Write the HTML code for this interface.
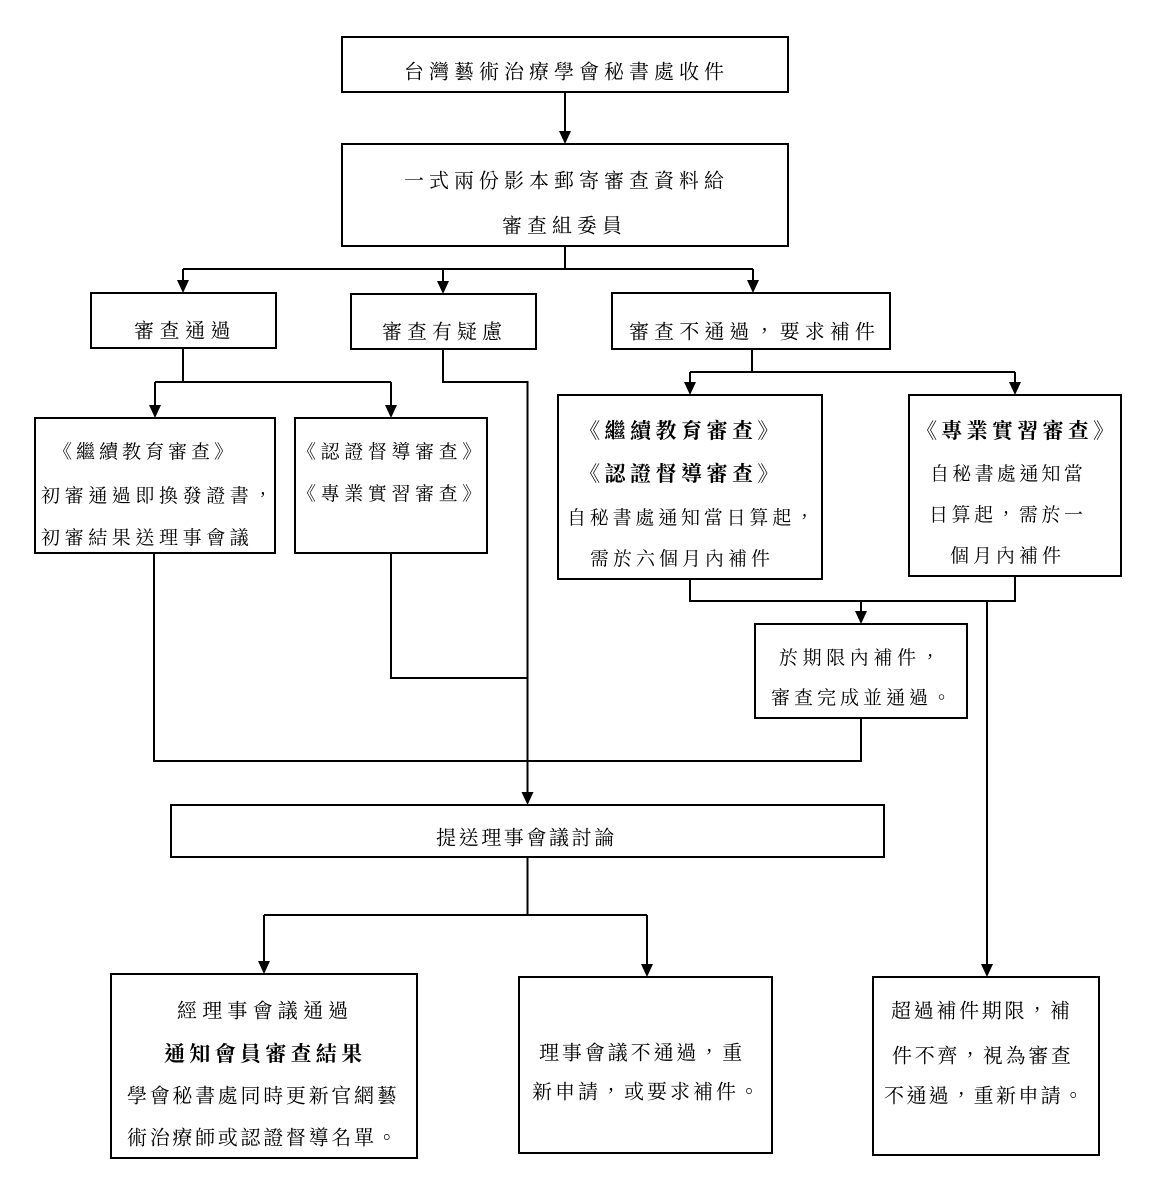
<!DOCTYPE html>
<html lang="zh-TW">
<head>
<meta charset="utf-8">
<style>
  html,body{margin:0;padding:0;background:#fff;}
  body{width:1152px;height:1187px;overflow:hidden;}
  svg{display:block;}
  text{font-family:"Noto Serif CJK SC","Noto Serif CJK TC","Noto Sans CJK TC",serif;fill:#000;}
  .b{font-weight:700;}
</style>
</head>
<body>
<svg width="1152" height="1187" viewBox="0 0 1152 1187" xmlns="http://www.w3.org/2000/svg">
  <rect x="0" y="0" width="1152" height="1187" fill="#fff"/>

  <!-- boxes -->
  <g fill="none" stroke="#000" stroke-width="2">
    <rect x="342" y="37" width="446" height="55"/>
    <rect x="342" y="144" width="446" height="102"/>
    <rect x="91" y="293" width="185" height="55"/>
    <rect x="351" y="294" width="185" height="55"/>
    <rect x="612" y="293" width="278" height="56"/>
    <rect x="35" y="418" width="240" height="135"/>
    <rect x="295" y="418" width="192" height="135"/>
    <rect x="558" y="395" width="264" height="184"/>
    <rect x="909" y="395" width="212" height="181"/>
    <rect x="755" y="624" width="212" height="94"/>
    <rect x="171" y="805" width="713" height="52"/>
    <rect x="111" y="974" width="306" height="184"/>
    <rect x="519" y="977" width="253" height="176"/>
    <rect x="873" y="977" width="226" height="178"/>
  </g>

  <!-- connectors -->
  <g fill="none" stroke="#000" stroke-width="2">
    <path d="M565 92 V132"/>
    <path d="M565 246 V269"/>
    <path d="M183 269 H753"/>
    <path d="M183 269 V281"/>
    <path d="M443 269 V282"/>
    <path d="M753 269 V281"/>
    <path d="M183 348 V382"/>
    <path d="M155 382 H391"/>
    <path d="M155 382 V406"/>
    <path d="M391 382 V406"/>
    <path d="M443 349 V382 H527.5 V793"/>
    <path d="M752 349 V372"/>
    <path d="M690 372 H1015"/>
    <path d="M690 372 V383"/>
    <path d="M1015 372 V383"/>
    <path d="M690 579 V601 H1015 V576"/>
    <path d="M861 601 V612"/>
    <path d="M987 601 V965"/>
    <path d="M861 718 V761 H154 V553"/>
    <path d="M391 553 V678 H527.5"/>
    <path d="M527.5 857 V915"/>
    <path d="M264 915 H647"/>
    <path d="M264 915 V962"/>
    <path d="M647 915 V965"/>
  </g>

  <!-- arrowheads -->
  <g fill="#000" stroke="none">
    <polygon points="559,131 571,131 565,144"/>
    <polygon points="177,280 189,280 183,293"/>
    <polygon points="437,281 449,281 443,294"/>
    <polygon points="747,280 759,280 753,293"/>
    <polygon points="149,405 161,405 155,418"/>
    <polygon points="385,405 397,405 391,418"/>
    <polygon points="684,382 696,382 690,395"/>
    <polygon points="1009,382 1021,382 1015,395"/>
    <polygon points="855,611 867,611 861,624"/>
    <polygon points="981,964 993,964 987,977"/>
    <polygon points="521.5,792 533.5,792 527.5,805"/>
    <polygon points="258,961 270,961 264,974"/>
    <polygon points="641,964 653,964 647,977"/>
  </g>

  <!-- texts -->
  <text x="404" y="78.6" style="font-size:20px;letter-spacing:5px">台灣藝術治療學會秘書處收件</text>

  <text x="404" y="187.6" style="font-size:20px;letter-spacing:5px">一式兩份影本郵寄審查資料給</text>
  <text x="502" y="232.6" style="font-size:20px;letter-spacing:5px">審查組委員</text>

  <text x="134" y="337.6" style="font-size:20px;letter-spacing:5.5px">審查通過</text>
  <text x="382" y="338.6" style="font-size:20px;letter-spacing:5px">審查有疑慮</text>
  <text x="629" y="338.6" style="font-size:20px;letter-spacing:5.1px">審查不通過，要求補件</text>

  <text x="53" y="458.2" style="font-size:19px;letter-spacing:4px">《繼續教育審查》</text>
  <text x="41" y="502.2" style="font-size:19px;letter-spacing:4.6px">初審通過即換發證書，</text>
  <text x="41" y="544.2" style="font-size:19px;letter-spacing:4.6px">初審結果送理事會議</text>

  <text x="297" y="458.2" style="font-size:19px;letter-spacing:4.6px">《認證督導審查》</text>
  <text x="297" y="500.2" style="font-size:19px;letter-spacing:4.6px">《專業實習審查》</text>

  <text class="b" x="579" y="438" style="font-size:21px;letter-spacing:4.5px">《繼續教育審查》</text>
  <text class="b" x="579" y="481" style="font-size:21px;letter-spacing:4.5px">《認證督導審查》</text>
  <text x="567" y="524.2" style="font-size:19px;letter-spacing:3.8px">自秘書處通知當日算起，</text>
  <text x="590" y="565.2" style="font-size:19px;letter-spacing:4px">需於六個月內補件</text>

  <text class="b" x="916" y="438" style="font-size:21px;letter-spacing:4.3px">《專業實習審查》</text>
  <text x="930" y="480.2" style="font-size:19px;letter-spacing:3.3px">自秘書處通知當</text>
  <text x="929" y="521.2" style="font-size:19px;letter-spacing:3.5px">日算起，需於一</text>
  <text x="950" y="562.2" style="font-size:19px;letter-spacing:4px">個月內補件</text>

  <text x="779" y="664.2" style="font-size:19px;letter-spacing:4.6px">於期限內補件，</text>
  <text x="771" y="704.2" style="font-size:19px;letter-spacing:4px">審查完成並通過。</text>

  <text x="436" y="844.6" style="font-size:20px;letter-spacing:2.6px">提送理事會議討論</text>

  <text x="177" y="1017.6" style="font-size:20px;letter-spacing:5.2px">經理事會議通過</text>
  <text class="b" x="164" y="1061" style="font-size:21px;letter-spacing:4.3px">通知會員審查結果</text>
  <text x="127" y="1102.6" style="font-size:20px;letter-spacing:2.7px">學會秘書處同時更新官網藝</text>
  <text x="127" y="1144.6" style="font-size:20px;letter-spacing:2.7px">術治療師或認證督導名單。</text>

  <text x="539" y="1059.6" style="font-size:20px;letter-spacing:2.9px">理事會議不通過，重</text>
  <text x="532" y="1098.6" style="font-size:20px;letter-spacing:3px">新申請，或要求補件。</text>

  <text x="891" y="1017.6" style="font-size:20px;letter-spacing:2.7px">超過補件期限，補</text>
  <text x="892" y="1062.6" style="font-size:20px;letter-spacing:2.7px">件不齊，視為審查</text>
  <text x="884" y="1102.6" style="font-size:20px;letter-spacing:2.4px">不通過，重新申請。</text>
</svg>
</body>
</html>
